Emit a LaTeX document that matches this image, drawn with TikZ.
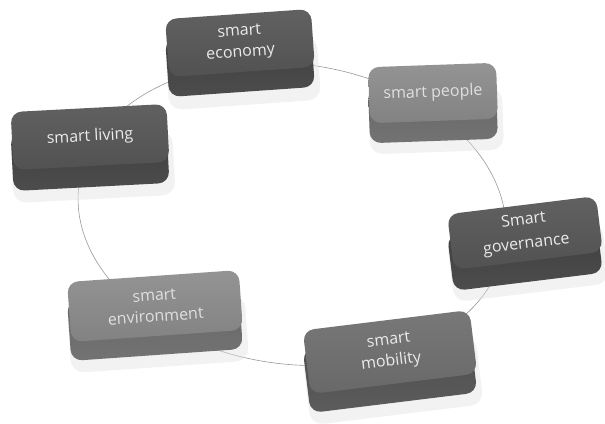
\documentclass[tikz,border=0pt]{standalone}
\usepackage{fontspec}
\setmainfont{Open Sans}
\begin{document}
\begin{tikzpicture}[x=1pt,y=-1pt]
\useasboundingbox[fill=white] (0,0) rectangle (605,423);
\tikzset{
  topface/.style={rounded corners=11pt, inner sep=0pt, align=center,
    font=\fontsize{16}{21}\selectfont, text=black!8},
  sideface/.style={rounded corners=11pt, inner sep=0pt},
  shade/.style={rounded corners=13pt, inner sep=0pt, fill=black!12, opacity=0.4},
  darktop/.style={top color=black!62, bottom color=black!68},
  darkside/.style={top color=black!76, bottom color=black!70},
  lighttop/.style={top color=black!42, bottom color=black!49},
  lightside/.style={top color=black!60, bottom color=black!55},
  midtop/.style={top color=black!53, bottom color=black!59},
  midside/.style={top color=black!70, bottom color=black!64},
  ring/.style={draw=black!40, line width=0.6pt}
}
\coordinate (c) at (292,214);
\draw[ring] (c) ellipse [x radius=215, y radius=150, rotate=-8];

% smart economy
\node[shade, minimum width=152pt, minimum height=64pt, rotate=4] (es) at (243,73) {};
\node[sideface, darkside, minimum width=146pt, minimum height=58pt, rotate=4] (ed) at (240,63) {};
\node[topface, darktop, minimum width=146pt, minimum height=58pt, rotate=4] (e) at (240,43) {smart\\economy};

% smart people
\node[shade, minimum width=134pt, minimum height=62pt, rotate=2] (ps) at (436,121) {};
\node[sideface, lightside, minimum width=128pt, minimum height=56pt, rotate=2] (pd) at (433,113) {};
\node[topface, lighttop, minimum width=128pt, minimum height=56pt, rotate=2, text=black!12] (p) at (433,93) {smart people};

% smart living
\node[shade, minimum width=162pt, minimum height=64pt, rotate=3] (ls) at (93,167) {};
\node[sideface, darkside, minimum width=156pt, minimum height=58pt, rotate=3] (ld) at (90,158) {};
\node[topface, darktop, minimum width=156pt, minimum height=58pt, rotate=3] (l) at (90,137) {smart living};

% Smart governance
\node[shade, minimum width=156pt, minimum height=62pt, rotate=7] (gs) at (528,262) {};
\node[sideface, darkside, minimum width=150pt, minimum height=56pt, rotate=7] (gd) at (525,254) {};
\node[topface, darktop, minimum width=150pt, minimum height=56pt, rotate=7] (g) at (525,233) {Smart\\[3pt]governance};

% smart environment
\node[shade, minimum width=178pt, minimum height=66pt, rotate=4] (vs) at (158,334) {};
\node[sideface, lightside, minimum width=172pt, minimum height=60pt, rotate=4] (vd) at (155,325) {};
\node[topface, lighttop, minimum width=172pt, minimum height=60pt, rotate=4, text=black!12] (v) at (155,306) {smart\\environment};

% smart mobility
\node[shade, minimum width=174pt, minimum height=70pt, rotate=7] (ms) at (393,380) {};
\node[sideface, midside, minimum width=168pt, minimum height=64pt, rotate=7] (md) at (390,371) {};
\node[topface, midtop, minimum width=168pt, minimum height=64pt, rotate=7] (m) at (390,352) {smart\\mobility};
\end{tikzpicture}
\end{document}
